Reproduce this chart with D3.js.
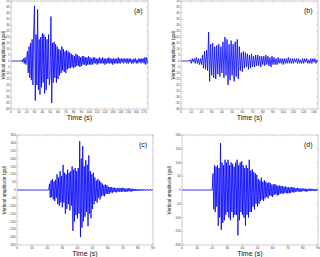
<!DOCTYPE html>
<html>
<head>
<meta charset="utf-8">
<script src="https://cdn.jsdelivr.net/npm/d3@7"></script>
<style>
  html, body { margin: 0; padding: 0; background: #fff; }
  svg { display: block; }
  text { font-family: "Liberation Sans", Arial, sans-serif; }
</style>
</head>
<body>
<div id="container"></div>
<script>
var width = 320,
    height = 257;

// panel labels
var panelLabels = ["(a)", "(b)", "(c)", "(d)"];

// time axis ranges (s)
var timeMax = [175, 134, 90, 90];
var timeTicks = [d3.range(0, 171, 10), d3.range(0, 131, 10), d3.range(0, 91, 10), d3.range(0, 91, 10)];

// amplitude axis ranges (gal)
var ampMin = [-40, -40, -350, -200];
var ampMax = [50, 50, 350, 200];
var ampTicks = [d3.range(-40, 51, 5), d3.range(-40, 51, 5), d3.range(-350, 351, 50), d3.range(-200, 201, 50)];

// onset time and sample step of each record (s)
var onsetA = 13, stepA = 1;
var onsetB = 8, stepB = 1;
var onsetC = 21, stepC = 0.5;
var onsetD = 20, stepD = 0.5;

// amplitude peaks, one per step after onset
var ampA = [
  1,-1,2,-2,3,-3,2,
  8,-10,12,-14,15,-16,18,-20,
  25,46,-33,22,-20,43,-24,18,
  -28,20,-22,23,-18,22,-27,20,-24,18,
  -15,22,-20,-12,37,-35,15,-18,16,-14,
  14,-18,12,-15,10,-12,9,-10,12,-8,
  10,-9,8,-10,9,-7,8,-6,7,-6,
  6,-5,5,-6,4,-5,6,-4,5,-4,4,-5,3,-4,4,
  -3,4,-3,3,-4,3,-3,4,-3,3,-3,2,-3,3,-2,3,-2,2,-3,2,
  -2,3,-2,2,-2,3,-2,2,-3,2,-2,2,-2,3,-2,2,-2,2,-3,2,
  -2,2,-2,2,-2,3,-2,2,-2,2,-1,2,-2,2,-1,2,-2,2,-2,2,
  -1,2,-2,1,-2,2,-1,2,-2,1,-2,2,-1,2,-2,2,-1,2,-2,3,-3,3,-2,2,-1
];

var ampB = [
  1,-2,2,-1,2,-2,3,-2,2,-3,2,-3,
  5,-6,8,-7,9,-8,
  24,-17,14,-12,15,-14,12,-15,13,-11,
  14,-13,12,-10,16,-14,20,-12,18,-20,
  14,-16,17,-12,14,-17,16,-13,18,-15,
  12,-8,7,-9,8,-6,7,-5,6,-7,
  5,-6,6,-5,4,-5,5,-4,5,-4,4,-5,4,-3,4,
  -4,5,-3,4,-4,3,-5,4,-3,3,-3,2,-3,3,-2,
  2,-2,2,-3,2,-2,2,-2,3,-2,2,-2,2,-2,2,-1,2,-2,2,-2,
  1,-2,2,-2,2,-1,2,-2,1,-2,2,-2,2,-1,2,-2,1,-1,2
];

var ampC = [
  40,-50,60,-45,70,-60,55,-70,65,-50,
  100,-90,80,-100,120,-80,90,-110,160,-80,
  110,-150,100,-120,130,-90,110,-130,120,-100,
  150,-260,130,-200,140,-160,120,-180,140,-150,
  310,-300,200,-240,280,-200,150,-170,190,-140,
  160,-230,220,-150,120,-180,100,-120,110,-90,
  80,-70,60,-80,70,-50,60,-60,50,-40,
  40,-35,30,-40,35,-25,30,-25,20,-25,
  20,-15,18,-20,15,-12,15,-14,12,-15,
  12,-10,14,-12,10,-12,15,-10,12,-10,
  10,-12,8,-10,12,-8,10,-9,8,-10,
  8,-6,7,-6,5,-6,5,-4,5,-5,
  4,-5,4,-3,5,-4,3,-4,4,-3,
  3,-4,3,-3,4,-3,3,-3,3,-2
];

var ampD = [
  60,-70,90,-80,85,-60,90,-130,80,-100,
  170,-145,100,-120,90,-110,110,-90,100,-80,
  110,-100,90,-110,100,-80,95,-100,85,-90,
  100,-90,110,-165,90,-110,100,-80,105,-90,
  90,-100,80,-130,90,-90,80,-100,110,-80,
  70,-80,75,-60,65,-70,60,-50,55,-60,
  40,-50,35,-40,45,-35,30,-40,35,-30,
  30,-25,25,-30,28,-20,25,-22,20,-25,
  20,-18,22,-15,18,-20,15,-18,16,-14,
  15,-12,14,-15,12,-10,13,-12,10,-12,
  10,-12,9,-10,11,-8,10,-9,8,-7,
  7,-6,8,-5,6,-7,5,-6,6,-4,
  5,-4,5,-6,4,-5,4,-3,5,-4,
  4,-3,4,-3,3,-4,3,-3,4,-3
];

var records = [
  {onset: onsetA, step: stepA, amp: ampA},
  {onset: onsetB, step: stepB, amp: ampB},
  {onset: onsetC, step: stepC, amp: ampC},
  {onset: onsetD, step: stepD, amp: ampD}
];

// plot boxes (pixels)
var boxes = [
  {left: 11, right: 148, top: 1, bottom: 109},
  {left: 181, right: 318, top: 1, bottom: 109},
  {left: 17, right: 153, top: 135, bottom: 245},
  {left: 182, right: 318, top: 135, bottom: 245}
];

var svg = d3.select("#container").append("svg")
    .attr("width", width)
    .attr("height", height);

boxes.forEach(function(b, i) {
  var x = d3.scaleLinear().domain([0, timeMax[i]]).range([b.left, b.right]);
  var y = d3.scaleLinear().domain([ampMin[i], ampMax[i]]).range([b.bottom, b.top]);
  var g = svg.append("g");

  // clip for the trace
  svg.append("clipPath").attr("id", "clip" + i)
    .append("rect")
      .attr("x", b.left).attr("y", b.top)
      .attr("width", b.right - b.left).attr("height", b.bottom - b.top);

  // the trace: flat until onset, then the peaks
  var rec = records[i];
  var pts = [[0, 0], [rec.onset, 0]];
  rec.amp.forEach(function(v, k) { pts.push([rec.onset + (k + 1) * rec.step, v]); });

  g.append("path")
    .datum(pts)
    .attr("clip-path", "url(#clip" + i + ")")
    .attr("fill", "none")
    .attr("stroke", "#0000ff")
    .attr("stroke-width", 0.8)
    .attr("d", d3.line().x(function(d) { return x(d[0]); }).y(function(d) { return y(d[1]); }));

  // frame
  g.append("rect")
    .attr("x", b.left).attr("y", b.top)
    .attr("width", b.right - b.left).attr("height", b.bottom - b.top)
    .attr("fill", "none")
    .attr("stroke", "#aaa")
    .attr("stroke-width", 0.6);

  // inward ticks on all sides
  var tickStroke = "#aaa";
  timeTicks[i].forEach(function(t) {
    g.append("line").attr("x1", x(t)).attr("x2", x(t)).attr("y1", b.bottom).attr("y2", b.bottom - 1.5)
      .attr("stroke", tickStroke).attr("stroke-width", 0.5);
    g.append("line").attr("x1", x(t)).attr("x2", x(t)).attr("y1", b.top).attr("y2", b.top + 1.5)
      .attr("stroke", tickStroke).attr("stroke-width", 0.5);
    g.append("text")
      .attr("x", x(t)).attr("y", b.bottom + 4)
      .attr("text-anchor", "middle")
      .attr("font-size", 3.4)
      .attr("fill", "#444")
      .text(t);
  });
  ampTicks[i].forEach(function(v) {
    g.append("line").attr("x1", b.left).attr("x2", b.left + 1.5).attr("y1", y(v)).attr("y2", y(v))
      .attr("stroke", tickStroke).attr("stroke-width", 0.5);
    g.append("line").attr("x1", b.right).attr("x2", b.right - 1.5).attr("y1", y(v)).attr("y2", y(v))
      .attr("stroke", tickStroke).attr("stroke-width", 0.5);
    g.append("text")
      .attr("x", b.left - 1.2).attr("y", y(v) + 1.1)
      .attr("text-anchor", "end")
      .attr("font-size", 3.2)
      .attr("fill", "#444")
      .text(v);
  });

  // axis titles
  g.append("text")
    .attr("x", (b.left + b.right) / 2).attr("y", b.bottom + 11)
    .attr("text-anchor", "middle")
    .attr("font-size", 7)
    .attr("fill", "#111")
    .text("Time (s)");

  var yl = b.left - (i === 2 || i === 3 ? 11 : 6);
  g.append("text")
    .attr("transform", "translate(" + yl + "," + ((b.top + b.bottom) / 2) + ") rotate(-90)")
    .attr("text-anchor", "middle")
    .attr("font-size", 4.8)
    .attr("fill", "#222")
    .text("Vertical amplitude (gal)");

  // panel label
  g.append("text")
    .attr("x", b.right - 14).attr("y", b.top + 12)
    .attr("font-size", 7)
    .attr("fill", "#111")
    .text(panelLabels[i]);
});
</script>
</body>
</html>
